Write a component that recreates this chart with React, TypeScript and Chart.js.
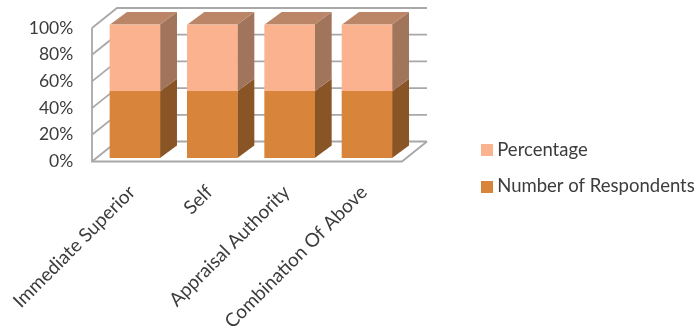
import React, { useEffect, useRef } from "react";
import { Chart, registerables } from "chart.js";

Chart.register(...registerables);

const categories = ["Immediate Superior", "Self", "Appraisal Authority", "Combination Of Above"];
const respondents = [50, 50, 50, 50];
const percentage = [50, 50, 50, 50];

const FAMILY = "Lato, 'Open Sans', sans-serif";
const TEXT = "#3c3c3c";
const GRID = "#a8a8a8";

// Oblique projection of the box depth: bars are extruded by this much.
const BAR_DEPTH = { dx: 17, dy: -12.5 };
// Walls sit slightly in front of and behind the bars.
const WALL_FRONT = { dx: -18, dy: 3.5 };
const WALL_BACK = { dx: 7, dy: -16.5 };

const poly = (ctx: CanvasRenderingContext2D, pts: number[][], fill: string) => {
  ctx.beginPath();
  pts.forEach(([x, y], i) => (i ? ctx.lineTo(x, y) : ctx.moveTo(x, y)));
  ctx.closePath();
  ctx.fillStyle = fill;
  ctx.fill();
};

// Legend marker as a small bitmap, so its gap to the text can be tighter than the default.
const swatch = (color: string) => {
  const c = document.createElement("canvas");
  c.width = 12;
  c.height = 12;
  const g = c.getContext("2d")!;
  g.fillStyle = color;
  g.fillRect(0, 0, 12, 12);
  return c;
};

// Fixes an axis box size and drops the overhang padding it would otherwise reserve.
const fitAxis = (size: { width?: number; height?: number }) => (s: any) => {
  if (size.width !== undefined) s.width = size.width;
  if (size.height !== undefined) s.height = size.height;
  s.paddingLeft = s.paddingRight = s.paddingTop = s.paddingBottom = 0;
};

const boxPlot = {
  id: "boxPlot",
  // The rotated category labels run below the axis box; let them reach the canvas edge.
  afterLayout(chart: any) {
    chart.scales.x.bottom = chart.height;
  },
  beforeDatasetsDraw(chart: any) {
    const { ctx, chartArea, scales } = chart;
    const left = chartArea.left + WALL_FRONT.dx + 13.7;
    const frontRight = chartArea.right - 3.7;
    const backLeft = left + WALL_BACK.dx - WALL_FRONT.dx;
    const backRight = frontRight + 25;
    const dy = WALL_BACK.dy - WALL_FRONT.dy;

    ctx.save();
    ctx.strokeStyle = GRID;
    ctx.lineWidth = 1.8;
    const line = (pts: number[][]) => {
      ctx.beginPath();
      pts.forEach(([x, y], i) => (i ? ctx.lineTo(x, y) : ctx.moveTo(x, y)));
      ctx.stroke();
    };
    for (const tick of scales.y.ticks) {
      const y = scales.y.getPixelForValue(tick.value);
      line([
        [left, y + WALL_FRONT.dy],
        [backLeft, y + WALL_FRONT.dy + dy],
        [backRight, y + WALL_FRONT.dy + dy],
      ]);
    }
    const y0 = scales.y.getPixelForValue(0) + WALL_FRONT.dy;
    const y100 = scales.y.getPixelForValue(100) + WALL_FRONT.dy;
    line([
      [left, y100],
      [left, y0],
      [frontRight, y0],
      [backRight, y0 + dy],
    ]);

    // Side faces of every segment, and the lid of the top segment.
    const sides = ["#8a5526", "#a1755b"];
    const lid = "#bb8567";
    chart.data.datasets.forEach((_: any, d: number) => {
      chart.getDatasetMeta(d).data.forEach((bar: any) => {
        const r = bar.x + bar.width / 2;
        const l = bar.x - bar.width / 2;
        poly(ctx, [
          [r, bar.base],
          [r + BAR_DEPTH.dx, bar.base + BAR_DEPTH.dy],
          [r + BAR_DEPTH.dx, bar.y + BAR_DEPTH.dy],
          [r, bar.y],
        ], sides[d]);
        if (d === chart.data.datasets.length - 1) {
          poly(ctx, [
            [l, bar.y],
            [l + BAR_DEPTH.dx, bar.y + BAR_DEPTH.dy],
            [r + BAR_DEPTH.dx, bar.y + BAR_DEPTH.dy],
            [r, bar.y],
          ], lid);
        }
      });
    });
    ctx.restore();
  },
};

export default function App() {
  const ref = useRef<HTMLCanvasElement>(null);

  useEffect(() => {
    const chart = new Chart(ref.current!, {
      type: "bar",
      data: {
        labels: categories,
        datasets: [
          { label: "Number of Respondents", data: respondents, backgroundColor: "#d9843b" },
          { label: "Percentage", data: percentage, backgroundColor: "#fbb28f" },
        ],
      },
      options: {
        responsive: false,
        animation: false,
        layout: { autoPadding: false, padding: { top: 24.5, bottom: 18 } },
        datasets: { bar: { barThickness: 50 } },
        plugins: {
          tooltip: { enabled: false },
          legend: {
            position: "right",
            reverse: true,
            maxWidth: 228,
            labels: {
              usePointStyle: true,
              pointStyleWidth: 2,
              boxHeight: 12,
              padding: 18,
              color: TEXT,
              font: { family: FAMILY, size: 18.5 },
              generateLabels: (c: any) =>
                (Chart.defaults.plugins.legend.labels.generateLabels as any)(c).map((item: any) => ({
                  ...item,
                  pointStyle: swatch(item.fillStyle),
                })),
            },
          },
        },
        scales: {
          x: {
            stacked: true,
            grid: { display: false },
            border: { display: false },
            afterFit: fitAxis({ height: 154 }),
            ticks: {
              color: TEXT,
              font: { family: FAMILY, size: 19 },
              minRotation: 45,
              maxRotation: 45,
              padding: 15,
              labelOffset: -3,
              autoSkip: false,
            },
          },
          y: {
            stacked: true,
            min: 0,
            max: 100,
            grid: { display: false, drawTicks: false },
            border: { display: false },
            afterFit: fitAxis({ width: 96.3 }),
            ticks: {
              stepSize: 20,
              color: TEXT,
              font: { family: FAMILY, size: 17.5 },
              padding: 23,
              labelOffset: 3.5,
              callback: (v: any) => `${v}%`,
            },
          },
          gutter: {
            position: "right",
            display: true,
            grid: { display: false, drawTicks: false },
            border: { display: false },
            ticks: { display: false },
            afterFit: fitAxis({ width: 62.3 }),
          },
        },
      } as any,
      plugins: [boxPlot],
    });
    return () => chart.destroy();
  }, []);

  return (
    <div style={{ position: "absolute", left: 0, top: 0, width: 696, height: 330, background: "#fff" }}>
      <canvas ref={ref} width={696} height={330} style={{ display: "block" }} />
    </div>
  );
}
